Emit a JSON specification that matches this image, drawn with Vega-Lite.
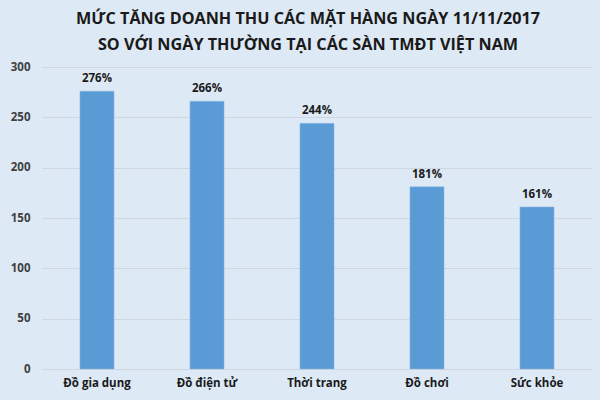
{
  "$schema": "https://vega.github.io/schema/vega-lite/v6.json",
  "width": 550,
  "height": 302,
  "autosize": {"type": "none"},
  "padding": {"left": 42, "top": 67, "right": 8, "bottom": 31},
  "background": "#dde9f5",
  "title": {
    "text": ["MỨC TĂNG DOANH THU CÁC MẶT HÀNG NGÀY 11/11/2017", "SO VỚI NGÀY THƯỜNG TẠI CÁC SÀN TMĐT VIỆT NAM"],
    "font": "Open Sans",
    "fontSize": 16.2,
    "fontWeight": "bold",
    "color": "#1a1a1a",
    "lineHeight": 26,
    "anchor": "middle",
    "dx": -9,
    "offset": 8
  },
  "config": {
    "view": {"stroke": null},
    "font": "Open Sans"
  },
  "data": {
    "values": [
      {"category": "Đồ gia dụng", "value": 276, "label": "276%"},
      {"category": "Đồ điện tử", "value": 266, "label": "266%"},
      {"category": "Thời trang", "value": 244, "label": "244%"},
      {"category": "Đồ chơi", "value": 181, "label": "181%"},
      {"category": "Sức khỏe", "value": 161, "label": "161%"}
    ]
  },
  "encoding": {
    "x": {
      "field": "category",
      "type": "nominal",
      "sort": null,
      "scale": {"paddingInner": 0.69, "paddingOuter": 0.345},
      "axis": {
        "title": null,
        "labelAngle": 0,
        "domain": false,
        "ticks": false,
        "labelFont": "Open Sans",
        "labelFontSize": 11.5,
        "labelFontWeight": "bold",
        "labelColor": "#1a1a1a",
        "labelPadding": 8
      }
    },
    "y": {
      "field": "value",
      "type": "quantitative",
      "scale": {"domain": [0, 300]},
      "axis": {
        "title": null,
        "values": [0, 50, 100, 150, 200, 250, 300],
        "domain": false,
        "ticks": false,
        "labelFont": "Open Sans",
        "labelFontSize": 11.5,
        "labelFontWeight": "bold",
        "labelColor": "#404040",
        "labelPadding": 12,
        "gridColor": "#cfd6df",
        "gridWidth": 1
      }
    }
  },
  "layer": [
    {
      "mark": {"type": "bar", "color": "#5b9bd5", "stroke": "#8fbbe6", "strokeWidth": 0.5}
    },
    {
      "mark": {"type": "text", "baseline": "bottom", "dy": -7, "font": "Open Sans", "fontSize": 11.5, "fontWeight": "bold", "color": "#1a1a1a"},
      "encoding": {
        "text": {"field": "label", "type": "nominal"}
      }
    }
  ]
}
